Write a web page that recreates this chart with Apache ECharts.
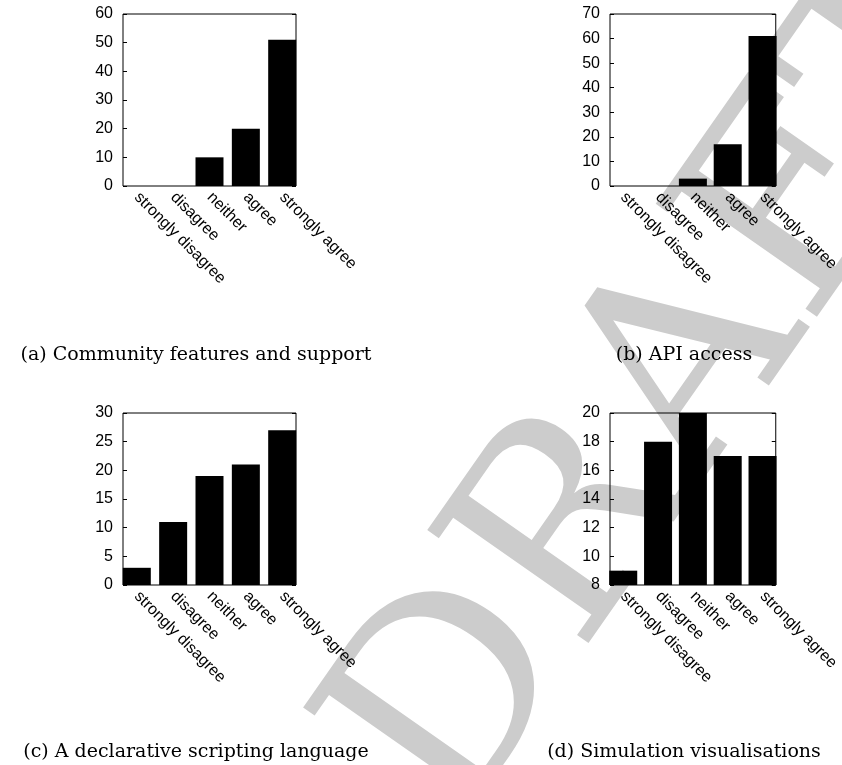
<!DOCTYPE html>
<html lang="en" style="height: 100%">
<head>
  <meta charset="utf-8">
</head>
<body style="height: 100%; margin: 0; background: #fff">
<div id="container" style="width: 842px; height: 765px"></div>
<script type="text/javascript" src="https://cdn.jsdelivr.net/npm/echarts@6/dist/echarts.min.js"></script>
<script type="text/javascript">
  // survey answers, one list per question
  var categories = ['strongly disagree', 'disagree', 'neither', 'agree', 'strongly agree'];
  var communityValues = [0, 0, 10, 20, 51];
  var apiValues = [0, 0, 3, 17, 61];
  var scriptingValues = [3, 11, 19, 21, 27];
  var simulationValues = [9, 18, 20, 17, 17];

  var captions = [
    '(a) Community features and support',
    '(b) API access',
    '(c) A declarative scripting language',
    '(d) Simulation visualisations'
  ];
  var yMin = [0, 0, 0, 8];
  var yMax = [60, 70, 30, 20];
  var yStep = [10, 10, 5, 2];
  var panelValues = [communityValues, apiValues, scriptingValues, simulationValues];

  var dom = document.getElementById('container');
  var myChart = echarts.init(dom, null, { renderer: 'canvas' });

  // panel boxes (left, top) and caption centres
  var boxLeft = [123, 610, 123, 610];
  var boxTop = [14, 14, 413, 413];
  var capX = [191, 679, 191, 679];
  var capY = [341, 341, 738, 738];

  var labelFont = 'Liberation Sans';
  var grids = [], xAxes = [], yAxes = [], series = [], titles = [];

  panelValues.forEach(function (values, i) {
    grids.push({
      left: boxLeft[i], top: boxTop[i], width: 173, height: 172,
      show: true, borderColor: '#000', borderWidth: 1,
      backgroundColor: 'transparent'
    });
    xAxes.push({
      type: 'value', gridIndex: i, min: -0.38, max: 4.38,
      axisLine: { show: false, onZero: false }, axisTick: { show: false }, splitLine: { show: false },
      axisLabel: {
        customValues: [0, 1, 2, 3, 4],
        formatter: function (v) { return categories[Math.round(v)]; },
        rotate: -45, margin: 9, color: '#000',
        fontSize: 16, fontFamily: labelFont
      }
    });
    // left axis with labels, right one only mirrors the ticks
    yAxes.push({
      type: 'value', gridIndex: i, position: 'left',
      min: yMin[i], max: yMax[i], interval: yStep[i],
      axisLine: { show: false, onZero: false }, splitLine: { show: false },
      axisTick: { show: true, inside: true, length: 4, lineStyle: { color: '#000' } },
      axisLabel: { margin: 10, color: '#000', fontSize: 16, fontFamily: labelFont }
    });
    yAxes.push({
      type: 'value', gridIndex: i, position: 'right',
      min: yMin[i], max: yMax[i], interval: yStep[i],
      axisLine: { show: false, onZero: false }, splitLine: { show: false },
      axisTick: { show: true, inside: true, length: 4, lineStyle: { color: '#000' } },
      axisLabel: { show: false }
    });
    series.push({
      type: 'bar', xAxisIndex: i, yAxisIndex: i * 2,
      barWidth: 28, clip: true,
      itemStyle: { color: '#000' },
      data: values.map(function (v, k) { return [k, v]; })
    });
    titles.push({
      text: captions[i], left: capX[i], top: capY[i], textAlign: 'center',
      textStyle: { fontFamily: 'DejaVu Serif', fontWeight: 'normal', fontSize: 19, color: '#000' }
    });
  });

  var option = {
    animation: false,
    title: titles,
    grid: grids,
    xAxis: xAxes,
    yAxis: yAxes,
    series: series,
    graphic: [{
      type: 'text', x: 680, y: 390, rotation: 55 * Math.PI / 180, z: -10,
      style: {
        text: 'DRAFT', fill: '#cccccc', align: 'center', verticalAlign: 'middle',
        font: '270px "DejaVu Serif"'
      }
    }]
  };
  myChart.setOption(option);
</script>
</body>
</html>
